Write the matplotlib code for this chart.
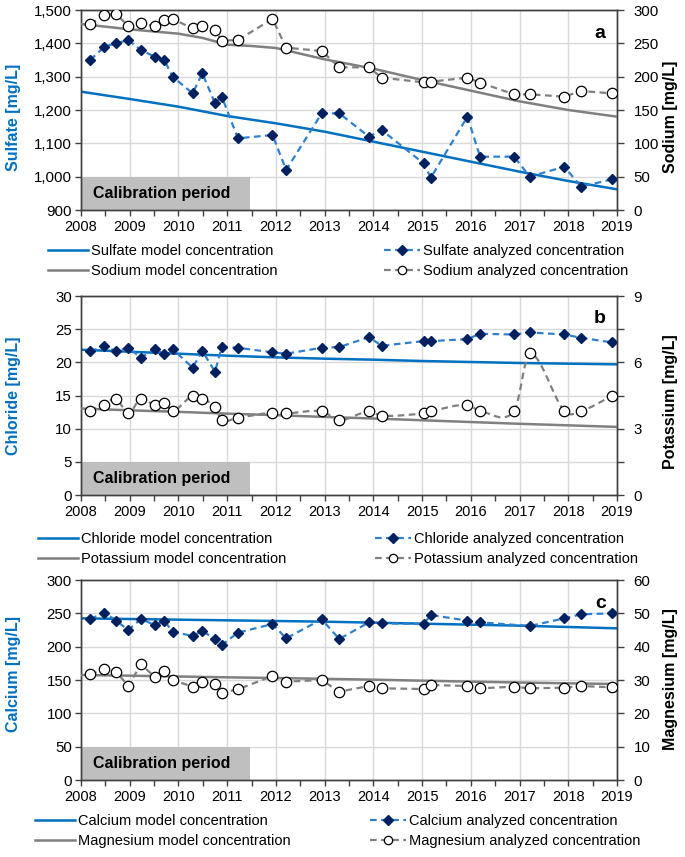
import numpy as np
import matplotlib
matplotlib.use("Agg")
import matplotlib.pyplot as plt
from matplotlib.path import Path
from matplotlib.patches import PathPatch, Rectangle
from matplotlib.lines import Line2D
from matplotlib.ticker import FuncFormatter

plt.rcParams['font.family'] = ['Liberation Sans', 'DejaVu Sans']

# ---------------- data ----------------
sample_dates = [2008.19, 2008.48, 2008.72, 2008.97, 2009.23, 2009.51, 2009.71, 2009.88,
                2010.29, 2010.49, 2010.75, 2010.89, 2011.22, 2011.93, 2012.21, 2012.94,
                2013.30, 2013.91, 2014.17, 2015.03, 2015.18, 2015.93, 2016.19, 2016.89,
                2017.21, 2017.92, 2018.26, 2018.90]
calcium_dates = [2008.19, 2008.48, 2008.72, 2008.97, 2009.23, 2009.51, 2009.71, 2009.88,
                 2010.29, 2010.49, 2010.75, 2010.89, 2011.22, 2011.93, 2012.21, 2012.94,
                 2013.30, 2013.91, 2014.17, 2015.03, 2015.18, 2015.93, 2016.19,
                 2017.21, 2017.92, 2018.26, 2018.90]

model_years = [2008, 2009, 2010, 2011, 2012, 2013, 2014, 2015, 2016, 2017, 2018, 2019]
sodium_model_years = [2008, 2009, 2010, 2010.5, 2011, 2011.5, 2012, 2013, 2014, 2015,
                      2016, 2017, 2018, 2019]

sulfate_model = [1255, 1233, 1210, 1182, 1160, 1135, 1105, 1075, 1045, 1015, 987, 962]
sodium_model = [279, 271, 264.5, 258, 248, 246, 243, 226, 212, 195, 179, 163, 150, 140]
chloride_model = [21.9, 21.6, 21.3, 21.0, 20.75, 20.55, 20.4, 20.2, 20.05, 19.9, 19.8, 19.7]
potassium_model = [3.91, 3.83, 3.76, 3.68, 3.61, 3.53, 3.46, 3.38, 3.30, 3.22, 3.15, 3.08]
calcium_model = [242.5, 241.5, 240.5, 239.5, 238.5, 237.5, 236, 234.5, 233, 231.5, 229.5, 227.5]
magnesium_model = [31.5, 31.3, 31.05, 30.8, 30.6, 30.35, 30.1, 29.8, 29.5, 29.25, 29.0, 28.8]

sulfate = [1350, 1390, 1400, 1410, 1380, 1360, 1350, 1300, 1250, 1310, 1220, 1240, 1115,
           1125, 1020, 1190, 1190, 1120, 1140, 1040, 997, 1180, 1060, 1060, 1000, 1030,
           970, 992]
sodium = [279, 292.5, 294, 276, 280, 276, 285, 286.5, 272.5, 276, 270, 254, 255, 286.5,
          243.5, 238.5, 214, 214, 198.5, 191.5, 192.5, 198.5, 191, 173.5, 173.5, 170,
          178.5, 175]
chloride = [21.7, 22.4, 21.7, 22.2, 20.7, 22.0, 21.2, 22.0, 19.2, 21.7, 18.6, 22.3, 22.2,
            21.5, 21.3, 22.2, 22.3, 23.8, 22.5, 23.2, 23.2, 23.5, 24.3, 24.2, 24.5, 24.2,
            23.7, 23.0]
potassium = [3.81, 4.09, 4.36, 3.69, 4.36, 4.06, 4.18, 3.79, 4.49, 4.36, 3.99, 3.38, 3.49,
             3.73, 3.69, 3.79, 3.38, 3.79, 3.58, 3.69, 3.79, 4.09, 3.79, 3.79, 6.40, 3.79,
             3.79, 4.48]
calcium = [241.5, 251, 239, 225, 241.5, 232.5, 238.5, 222.5, 216, 223.5, 211.5, 202.5, 221,
           234, 212.5, 241, 211.5, 236.5, 235, 234, 247.5, 239, 236.5, 231, 242.5, 248.5,
           250]
magnesium = [31.7, 33.2, 32.5, 28.2, 34.7, 31, 32.8, 30, 28, 29.3, 28.8, 26.2, 27.2, 31.2,
             29.5, 30, 26.5, 28.2, 27.5, 27.3, 28.5, 28.2, 27.5, 28.0, 27.5, 27.7, 28.2,
             27.8]

year_ticks = list(range(2008, 2020))
calibration_end = 2011.47

# ---------------- style ----------------
BLUE = '#0070C0'
BLUE_DASH = '#2F80CF'
NAVY = '#002060'
GRAY = '#808080'
GRID = '#D9D9D9'
SPINE = '#404040'
FS = 10.5

W, H = 685, 857
fig = plt.figure(figsize=(W / 100, H / 100), dpi=100)


def smooth_path(x, y):
    x = np.asarray(x, float)
    y = np.asarray(y, float)
    n = len(x)
    slopes = np.empty(n)
    for i in range(n):
        a = max(i - 1, 0)
        b = min(i + 1, n - 1)
        slopes[i] = (y[b] - y[a]) / (x[b] - x[a])
    verts = [(x[0], y[0])]
    codes = [Path.MOVETO]
    for i in range(n - 1):
        dx = (x[i + 1] - x[i]) / 3
        verts += [(x[i] + dx, y[i] + dx * slopes[i]),
                  (x[i + 1] - dx, y[i + 1] - dx * slopes[i + 1]),
                  (x[i + 1], y[i + 1])]
        codes += [Path.CURVE4] * 3
    return Path(verts, codes)


panels = [
    dict(top=10, bottom=210, letter='a',
         lname='Sulfate', rname='Sodium', llim=(900, 1500), lstep=100,
         rlim=(0, 300), rticks=np.arange(0, 301, 50), rlabel_every=50,
         lmx=model_years, lm=sulfate_model, rmx=sodium_model_years, rm=sodium_model,
         lax=sample_dates, la=sulfate, rax=sample_dates, ra=sodium,
         comma=True, smooth=False, llab_y=117, rlab_y=117,
         leg_y=261, leg_lx=48, leg_rx=384),
    dict(top=296, bottom=495, letter='b',
         lname='Chloride', rname='Potassium', llim=(0, 30), lstep=5,
         rlim=(0, 9), rticks=np.arange(0, 9.01, 1.5), rlabel_every=3,
         lmx=model_years, lm=chloride_model, rmx=model_years, rm=potassium_model,
         lax=sample_dates, la=chloride, rax=sample_dates, ra=potassium,
         comma=False, smooth=True, llab_y=396, rlab_y=402,
         leg_y=549, leg_lx=38, leg_rx=375),
    dict(top=580, bottom=780, letter='c',
         lname='Calcium', rname='Magnesium', llim=(0, 300), lstep=50,
         rlim=(0, 60), rticks=np.arange(0, 61, 10), rlabel_every=10,
         lmx=model_years, lm=calcium_model, rmx=model_years, rm=magnesium_model,
         lax=calcium_dates, la=calcium, rax=sample_dates, ra=magnesium,
         comma=False, smooth=False, llab_y=674, rlab_y=679,
         leg_y=831, leg_lx=35, leg_rx=370),
]

for p in panels:
    ax = fig.add_axes([81 / W, 1 - p['bottom'] / H, 536 / W, (p['bottom'] - p['top']) / H])
    ax2 = ax.twinx()
    lo, hi = p['llim']
    ax.set_xlim(2008, 2019)
    ax.set_ylim(lo, hi)
    ax2.set_ylim(*p['rlim'])

    ax.set_xticks(year_ticks)
    ax.set_xticks(np.arange(2008.5, 2019, 1.0), minor=True)
    ax.set_yticks(np.arange(lo, hi + 0.01, p['lstep']))
    if p['comma']:
        ax.yaxis.set_major_formatter(FuncFormatter(lambda v, pos: f"{v:,.0f}"))
    ax2.set_yticks(p['rticks'])
    ax2.set_yticklabels([f"{v:g}" if abs(v / p['rlabel_every'] - round(v / p['rlabel_every'])) < 1e-6 else ''
                         for v in p['rticks']])

    ax.grid(True, which='major', color=GRID, lw=1)
    ax.set_axisbelow(True)
    ax.tick_params(axis='x', which='both', direction='out', length=4, width=1,
                   color=SPINE, pad=3.5, labelsize=FS)
    ax.tick_params(axis='y', direction='out', length=4, width=1, color=SPINE,
                   pad=2.5, labelsize=FS + 0.3)
    ax2.tick_params(axis='y', direction='out', length=5, width=1, color=SPINE,
                    pad=7, labelsize=FS + 0.3)
    for a in (ax, ax2):
        for s in a.spines.values():
            s.set_color(SPINE)
            s.set_linewidth(1)

    # calibration period box
    ax.add_patch(Rectangle((2008, lo), calibration_end - 2008, (hi - lo) / 6,
                           facecolor='#BFBFBF', edgecolor='none', zorder=1.5))
    ax.text(2008.25, lo + (hi - lo) / 12, 'Calibration period', fontsize=11.5,
            fontweight='bold', va='center', ha='left', zorder=2)

    # model lines
    ax.plot(p['lmx'], p['lm'], color=BLUE, lw=1.8, zorder=3)
    ax2.plot(p['rmx'], p['rm'], color=GRAY, lw=1.8, zorder=3)

    # analyzed series
    dash = (0, (3, 2))
    ax.plot(p['lax'], p['la'], color=BLUE_DASH, lw=1.6, ls=dash, marker='D',
            ms=5.5, mfc=NAVY, mec=NAVY, zorder=4)
    if p['smooth']:
        ax2.add_patch(PathPatch(smooth_path(p['rax'], p['ra']), fill=False,
                                edgecolor=GRAY, lw=1.6, ls=dash, zorder=4))
        ax2.plot(p['rax'], p['ra'], ls='none', marker='o', ms=7.5, mfc='white',
                 mec='black', mew=0.9, zorder=5)
    else:
        ax2.plot(p['rax'], p['ra'], color=GRAY, lw=1.6, ls=dash, marker='o', ms=7.5,
                 mfc='white', mec='black', mew=0.9, zorder=4)

    ax.text(0.979, 0.885, p['letter'], transform=ax.transAxes, ha='right', va='center',
            fontsize=14, fontweight='bold')

    fig.text(14 / W, 1 - p['llab_y'] / H, f"{p['lname']} [mg/L]", rotation=90,
             color=BLUE, fontsize=11.5, fontweight='bold', ha='center', va='center')
    fig.text(671 / W, 1 - p['rlab_y'] / H, f"{p['rname']} [mg/L]", rotation=90,
             color='black', fontsize=11.5, fontweight='bold', ha='center', va='center')

    h_model_l = Line2D([], [], color=BLUE, lw=1.8)
    h_model_r = Line2D([], [], color=GRAY, lw=1.8)
    h_an_l = Line2D([], [], color=BLUE_DASH, lw=1.6, ls=dash, marker='D', ms=5.5,
                    mfc=NAVY, mec=NAVY)
    h_an_r = Line2D([], [], color=GRAY, lw=1.6, ls=dash, marker='o', ms=6,
                    mfc='white', mec='black', mew=0.9)
    common = dict(loc='center left', frameon=False, fontsize=FS, handletextpad=0.2,
                  labelspacing=0.45, borderpad=0, borderaxespad=0)
    fig.legend([h_model_l, h_model_r],
               [f"{p['lname']} model concentration", f"{p['rname']} model concentration"],
               bbox_to_anchor=(p['leg_lx'] / W, 1 - p['leg_y'] / H), handlelength=2.75,
               **common)
    fig.legend([h_an_l, h_an_r],
               [f"{p['lname']} analyzed concentration", f"{p['rname']} analyzed concentration"],
               bbox_to_anchor=(p['leg_rx'] / W, 1 - p['leg_y'] / H), handlelength=2.5,
               **common)

fig.savefig('out.png', dpi=100)
